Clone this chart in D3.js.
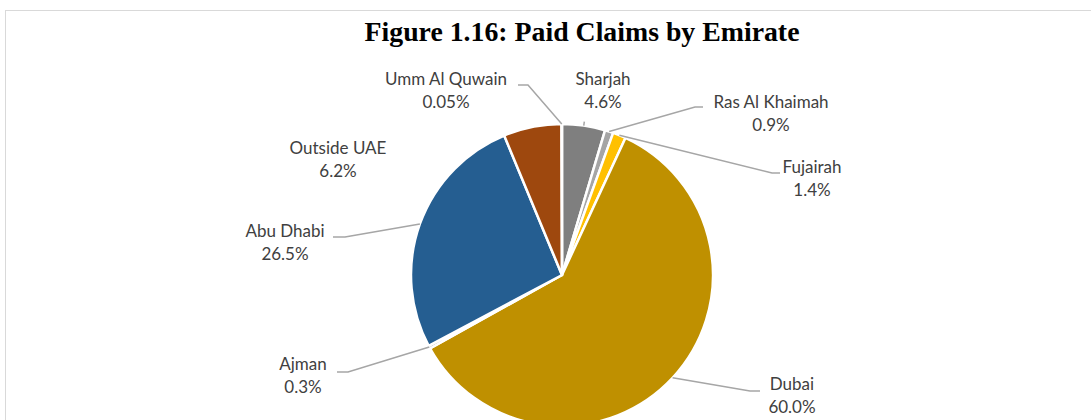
<!DOCTYPE html>
<html>
<head>
<meta charset="utf-8">
<script src="https://cdn.jsdelivr.net/npm/d3@7"></script>
<style>
  body { margin: 0; background: #fff; }
  svg { display: block; }
</style>
</head>
<body>
<svg width="1091" height="420"></svg>
<script>
// data, clockwise from 12 o'clock
const emirates = ["Sharjah","Ras Al Khaimah","Fujairah","Dubai","Ajman","Abu Dhabi","Outside UAE","Umm Al Quwain"];
const shares = [4.6, 0.9, 1.4, 60.0, 0.3, 26.5, 6.2, 0.05];
const shareLabels = ["4.6%","0.9%","1.4%","60.0%","0.3%","26.5%","6.2%","0.05%"];

// styling / layout
const colors = ["#7F7F7F","#A5A5A5","#FFC000","#BF9000","#636363","#255E91","#9E480E","#997300"];
// label centre x, first baseline y, elbow point, tail x (null = no leader / short tick)
const labelLayout = [
  {x:603, y:85,  line:"tick"},
  {x:771, y:108, ex:695, ey:107, tx:703},
  {x:812, y:173, ex:772, ey:173, tx:780},
  {x:792, y:390, ex:750, ey:391, tx:760},
  {x:303, y:370, ex:348, ey:372, tx:337},
  {x:285, y:237, ex:345, ey:237, tx:333},
  {x:338, y:154, line:null},
  {x:446, y:85,  ex:528, ey:85,  tx:518}
];

const svg = d3.select("svg");
const cx = 562, cy = 275, r = 151;

// chart frame
svg.append("rect")
  .attr("x",5.5).attr("y",10.5).attr("width",1200).attr("height",500)
  .attr("fill","none").attr("stroke","#D9D9D9").attr("stroke-width",1);

svg.append("text")
  .attr("x",582).attr("y",41)
  .attr("text-anchor","middle")
  .attr("font-family","'Liberation Serif','Times New Roman',serif")
  .attr("font-weight","bold").attr("font-size",27.8)
  .attr("fill","#000")
  .text("Figure 1.16: Paid Claims by Emirate");

const pie = d3.pie().sort(null).value(d => d);
const arcs = pie(shares);
const arc = d3.arc().innerRadius(0).outerRadius(r);
const edge = d3.arc().innerRadius(r).outerRadius(r);
const outer = d3.arc().innerRadius(r + 4).outerRadius(r + 4);

const g = svg.append("g").attr("transform",`translate(${cx},${cy})`);

g.selectAll("path.slice")
  .data(arcs)
  .join("path")
  .attr("class","slice")
  .attr("d",arc)
  .attr("fill",(d,i) => colors[i])
  .attr("stroke","#fff")
  .attr("stroke-width",2.5)
  .attr("stroke-linejoin","round");

// leader lines
arcs.forEach((d,i) => {
  const L = labelLayout[i];
  if (L.line === null) return;
  const [sx, sy] = edge.centroid(d);
  let pts;
  if (L.line === "tick") {
    const [ox, oy] = outer.centroid(d);
    pts = [[cx+sx, cy+sy], [cx+ox, cy+oy]];
  } else {
    pts = [[cx+sx, cy+sy], [L.ex, L.ey], [L.tx, L.ey]];
  }
  svg.append("path")
    .attr("d", d3.line()(pts))
    .attr("fill","none")
    .attr("stroke","#A6A6A6")
    .attr("stroke-width",1.5);
});

// labels
const lab = svg.append("g")
  .attr("font-family","Lato,'Open Sans',sans-serif")
  .attr("font-size",17)
  .attr("fill","#404040")
  .attr("text-anchor","middle");

emirates.forEach((name,i) => {
  const L = labelLayout[i];
  const t = lab.append("text").attr("x",L.x).attr("y",L.y);
  t.append("tspan").attr("x",L.x).text(name);
  t.append("tspan").attr("x",L.x).attr("dy",22.5).text(shareLabels[i]);
});
</script>
</body>
</html>
